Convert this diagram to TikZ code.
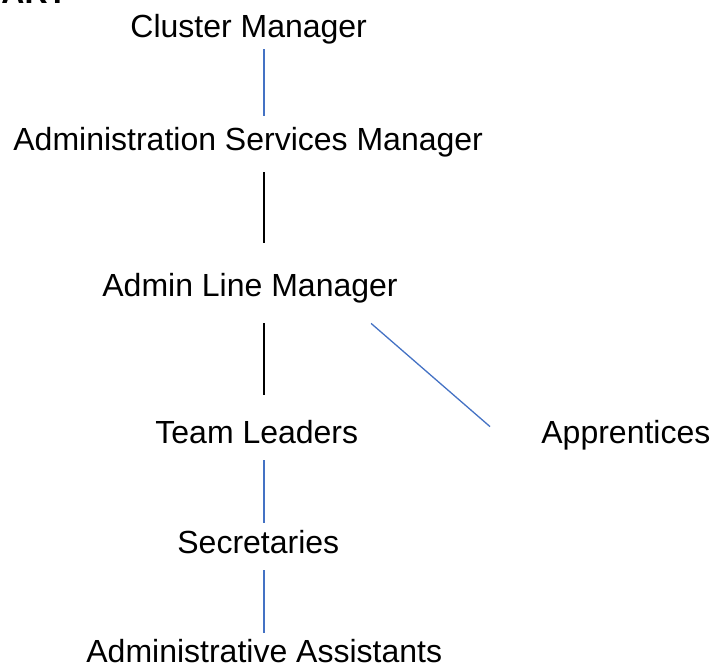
\documentclass[tikz,border=0pt]{standalone}
\usepackage{fontspec}
\setmainfont{Liberation Sans}
\definecolor{wordblue}{HTML}{4472C4}
\tikzset{
  post/.style={anchor=base west, inner sep=0pt, text height=11.5bp, text depth=3.5bp, font=\fontsize{16bp}{19bp}\selectfont},
  bluelink/.style={draw=wordblue, line width=1bp},
  blacklink/.style={draw=black, line width=1.1bp},
}

\begin{document}
\begin{tikzpicture}[x=0.5bp, y=-0.5bp]
            \useasboundingbox (0,0) rectangle (711,665);
            \clip (0,0) rectangle (711,665);
            \node[post, font=\fontsize{16bp}{19bp}\selectfont\bfseries] (heading) at (1,4) {ART};
            \coordinate (spine) at (264,0);
            \node[post] (cm) at (130,38) {Cluster Manager};
            \node[post] (asm) at (13,150) {Administration Services Manager};
            \node[post] (alm) at (102,296) {Admin Line Manager};
            \node[post] (tl) at (155,443) {Team Leaders};
            \node[post] (app) at (541,443) {Apprentices};
            \node[post] (sec) at (177,553) {Secretaries};
            \node[post] (aa) at (86,662) {Administrative Assistants};
            \draw[bluelink, shorten <=2bp, shorten >=5.5bp] (cm.south -| spine) -- (asm.north -| spine);
            \draw[blacklink, shorten <=7.5bp, shorten >=15bp] (asm.south -| spine) -- (alm.north -| spine);
            \draw[blacklink, shorten <=10bp, shorten >=12.5bp] (alm.south -| spine) -- (tl.north -| spine);
            \draw[bluelink, line width=0.65bp] ([xshift=-13.5bp,yshift=-10bp]alm.south east) -- ([xshift=-25.5bp,yshift=-3.5bp]app.north west);
            \draw[bluelink, shorten <=5bp, shorten >=3.5bp] (tl.south -| spine) -- (sec.north -| spine);
            \draw[bluelink, shorten <=5bp, shorten >=3bp] (sec.south -| spine) -- (aa.north -| spine);
        \end{tikzpicture}
\end{document}
